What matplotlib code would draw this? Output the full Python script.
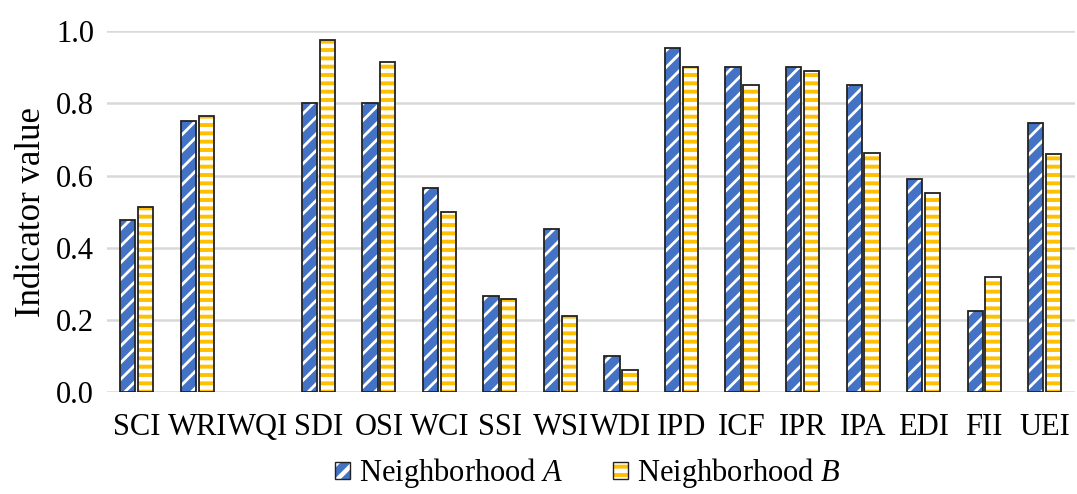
import matplotlib
matplotlib.use("Agg")
import numpy as np
from matplotlib import pyplot as plt
from matplotlib.patches import Patch
from matplotlib.legend_handler import HandlerTuple

plt.rcParams['font.family'] = 'Liberation Serif'
plt.rcParams['mathtext.fontset'] = 'custom'
plt.rcParams['mathtext.rm'] = 'Liberation Serif'
plt.rcParams['mathtext.it'] = 'Liberation Serif:italic'

categories = ['SCI', 'WRI', 'WQI', 'SDI', 'OSI', 'WCI', 'SSI', 'WSI',
              'WDI', 'IPD', 'ICF', 'IPR', 'IPA', 'EDI', 'FII', 'UEI']
neigh_a = [0.476, 0.752, 0.0, 0.80, 0.80, 0.565, 0.266, 0.451,
           0.100, 0.952, 0.90, 0.90, 0.85, 0.59, 0.225, 0.745]
neigh_b = [0.513, 0.765, 0.0, 0.975, 0.914, 0.499, 0.258, 0.211,
           0.061, 0.90, 0.85, 0.889, 0.663, 0.553, 0.32, 0.66]
yticks = [0.0, 0.2, 0.4, 0.6, 0.8, 1.0]

blue = '#4472C4'
yellow = '#FFC000'

fig = plt.figure(figsize=(10.77, 4.94), dpi=100)
ax = fig.add_axes([0.099, 0.206, 0.899, 0.731])

x = np.arange(len(categories))
w = 0.25
off = 0.148


def set_hlw(patches, lw):
    for p in patches:
        if hasattr(p, 'set_hatch_linewidth'):
            p.set_hatch_linewidth(lw)


# hatched fill, then black outline on top
series = [(neigh_a, x - off, blue, '//', 2.0),
          (neigh_b, x + off, yellow, '--', 3.2)]
for vals, pos, col, hat, hlw in series:
    plt.rcParams['hatch.linewidth'] = hlw
    vals = np.array(vals)
    keep = vals > 0
    bars = ax.bar(pos[keep], vals[keep], w, color=col, edgecolor='white',
                  hatch=hat, linewidth=0, zorder=3)
    set_hlw(bars, hlw)
    ax.bar(pos[keep], vals[keep], w, fill=False, edgecolor='#222222',
           linewidth=1.3, zorder=4)

ax.set_xlim(-0.5, len(categories) - 0.5)
ax.set_ylim(0, 1.0)
ax.set_yticks(yticks)
ax.set_yticklabels(['%.1f' % v for v in yticks], fontsize=22)
ax.set_xticks(x)
ax.set_xticklabels(categories, fontsize=22)
ax.tick_params(axis='y', length=0, pad=9)
ax.tick_params(axis='x', length=0, pad=15)
ax.set_ylabel('Indicator value', fontsize=25, labelpad=6)
ax.grid(axis='y', color='#D9D9D9', linewidth=1.8, zorder=0)
ax.set_axisbelow(True)
for s in ax.spines.values():
    s.set_visible(False)

plt.rcParams['hatch.linewidth'] = 2.0
pa = Patch(facecolor=blue, edgecolor='white', hatch='//', linewidth=0)
set_hlw([pa], 2.0)
plt.rcParams['hatch.linewidth'] = 3.2
pb = Patch(facecolor=yellow, edgecolor='white', hatch='--', linewidth=0)
set_hlw([pb], 3.2)
ha = (pa, Patch(fill=False, edgecolor='#222222', linewidth=1.0))
hb = (pb, Patch(fill=False, edgecolor='#222222', linewidth=1.0))
fig.legend([ha, hb], ['Neighborhood $\\mathit{A}$', 'Neighborhood $\\mathit{B}$'],
           handler_map={tuple: HandlerTuple(ndivide=1)},
           loc='lower center', bbox_to_anchor=(0.546, -0.048), ncol=2,
           frameon=False, fontsize=22, handlelength=0.5, handleheight=0.5,
           handletextpad=0.3, columnspacing=1.6)

fig.savefig('out.png', dpi=100)
